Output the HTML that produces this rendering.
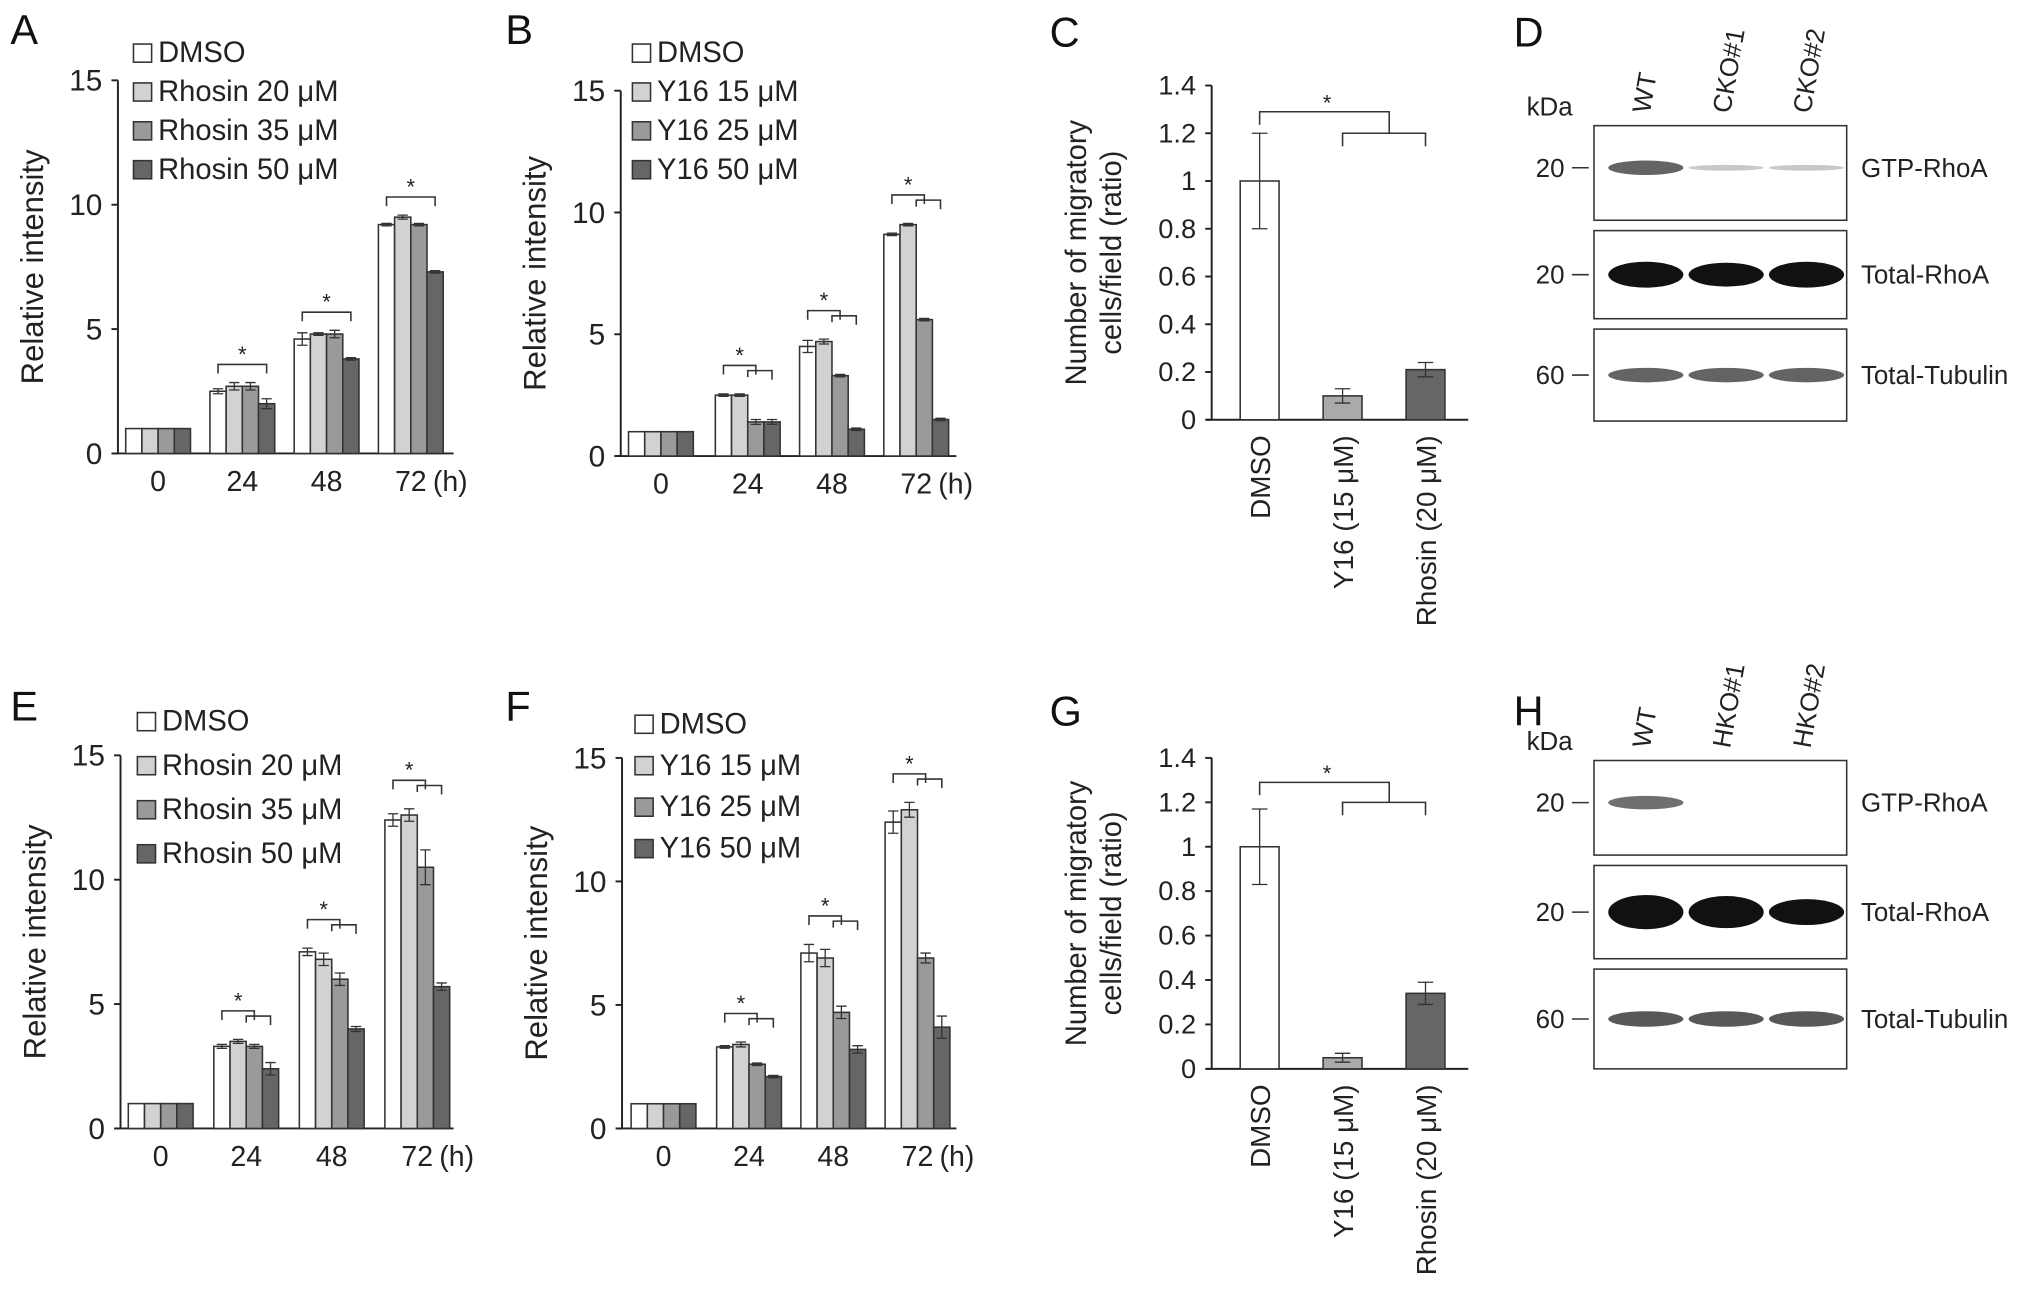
<!DOCTYPE html>
<html><head><meta charset="utf-8"><style>
html,body{margin:0;padding:0;background:#fff}
svg{display:block;font-family:"Liberation Sans",Arial,sans-serif}
</style></head><body>
<svg id="fig" width="2032" height="1293" viewBox="0 0 1568 998" preserveAspectRatio="none" xmlns="http://www.w3.org/2000/svg"></svg>
<script>
const timeCats=["0","24","48","72"];
const colors=["#ffffff","#d2d2d2","#9a9a9a","#666666"];
// Panel A
const aNames=["DMSO","Rhosin 20 μM","Rhosin 35 μM","Rhosin 50 μM"];
const aVals=[[1,2.5,4.6,9.2],[1,2.7,4.8,9.5],[1,2.7,4.8,9.2],[1,2.0,3.8,7.3]];
const aErr=[[0,0.1,0.25,0.05],[0,0.15,0.05,0.08],[0,0.15,0.15,0.05],[0,0.2,0.05,0.05]];
// Panel B
const bNames=["DMSO","Y16 15 μM","Y16 25 μM","Y16 50 μM"];
const bVals=[[1,2.5,4.5,9.1],[1,2.5,4.7,9.5],[1,1.4,3.3,5.6],[1,1.4,1.1,1.5]];
const bErr=[[0,0.05,0.25,0.05],[0,0.05,0.1,0.05],[0,0.1,0.05,0.05],[0,0.1,0.05,0.05]];
// Panel E
const eVals=[[1,3.3,7.1,12.4],[1,3.5,6.8,12.6],[1,3.3,6.0,10.5],[1,2.4,4.0,5.7]];
const eErr=[[0,0.08,0.15,0.25],[0,0.08,0.25,0.25],[0,0.08,0.25,0.7],[0,0.25,0.1,0.15]];
// Panel F
const fVals=[[1,3.3,7.1,12.4],[1,3.4,6.9,12.9],[1,2.6,4.7,6.9],[1,2.1,3.2,4.1]];
const fErr=[[0,0.05,0.35,0.45],[0,0.1,0.35,0.3],[0,0.05,0.25,0.2],[0,0.05,0.15,0.45]];
const yTicks=[0,5,10,15];
// Panels C, G
const migCats=["DMSO","Y16 (15 μM)","Rhosin (20 μM)"];
const cVals=[1.0,0.1,0.21];
const cErr=[0.2,0.03,0.03];
const gVals=[1.0,0.05,0.34];
const gErr=[0.17,0.02,0.05];
const migTicks=[0,0.2,0.4,0.6,0.8,1,1.2,1.4];
const migTickLabels=["0","0.2","0.4","0.6","0.8","1","1.2","1.4"];

const NS="http://www.w3.org/2000/svg";
const svg=document.getElementById('fig');
function mk(tag,attrs,parent,text){const e=document.createElementNS(NS,tag);for(const k in attrs)e.setAttribute(k,attrs[k]);if(text!==undefined)e.textContent=text;(parent||svg).appendChild(e);return e;}

function groupChart(o){
  const g=mk('g',{});
  
  
  const y=v=>o.y0-(v/15)*(o.y0-o.y15);
  const gx=i=>o.gx0+i*o.gstep+(i>0?o.goff:0);
  const bw=12.5;
  const ax=mk('line',{x1:o.ax,y1:o.y15,x2:o.ax,y2:o.y0,stroke:'#222','stroke-width':1.5},g);
  
  const xa=mk('line',{x1:o.ax-4,y1:o.y0,x2:o.axEnd,y2:o.y0,stroke:'#222','stroke-width':1.5},g);
  
  yTicks.forEach(t=>{
    mk('line',{x1:o.ax-5,y1:y(t),x2:o.ax,y2:y(t),stroke:'#222','stroke-width':1.5},g);
    const tl=mk('text',{x:o.ax-12,y:y(t)+8,'text-anchor':'end','font-size':23,fill:'#222'},g,String(t));
    
  });
  const yt=mk('text',{transform:`translate(${o.ax-58},${(o.y0+o.y15)/2}) rotate(-90)`,'text-anchor':'middle','font-size':24,fill:'#222'},g,'Relative intensity');
  
  timeCats.forEach((c,i)=>{
    const t=mk('text',{x:gx(i),y:o.y0+29,'text-anchor':'middle','font-size':22,fill:'#222'},g,c);
    
  });
  const h=mk('text',{x:gx(3)+17,y:o.y0+29,'font-size':22,fill:'#222'},g,'(h)');
  
  o.vals.forEach((ser,s)=>{
    ser.forEach((v,i)=>{
      const x=gx(i)-2*bw+s*bw;
      const r=mk('rect',{x:x,y:y(v),width:bw,height:o.y0-y(v),fill:colors[s],stroke:'#333','stroke-width':1.2},g);
      
      const e=o.err[s][i];
      if(e>0){
        const cx=x+bw/2;
        mk('path',{d:`M${cx},${y(v+e)}V${y(v-e)}M${cx-4},${y(v+e)}H${cx+4}M${cx-4},${y(v-e)}H${cx+4}`,stroke:'#333','stroke-width':1,fill:'none'},g);
      }
    });
  });
  for(let i=1;i<4;i++){
    const top=Math.max(...o.vals.map((s,k)=>s[i]+o.err[k][i]));
    const by=y(top)-14-(o.double?8:0);
    const x1=gx(i)-2*bw+bw/2, x2=gx(i)+bw*1.5;
    const br=mk('path',{d:o.double?`M${x1},${by+7}V${by}H${gx(i)+bw/2}V${by+7}M${gx(i)},${by+9}V${by+4}H${x2}V${by+11}`:`M${x1},${by+7}V${by}H${x2}V${by+7}`,stroke:'#333','stroke-width':1.2,fill:'none'},g);
    
    mk('text',{x:o.double?(x1+gx(i)+bw/2)/2:(x1+x2)/2,y:by-2,'text-anchor':'middle','font-size':17,fill:'#222'},g,'*');
  }
  o.names.forEach((n,s)=>{
    const ly=o.ly+s*o.lstep;
    const lg=mk('g',{},g);
    
    mk('rect',{x:o.lx,y:ly-14,width:14,height:14,fill:colors[s],stroke:'#333','stroke-width':1.2},lg);
    mk('text',{x:o.lx+19,y:ly,'font-size':22.5,fill:'#222'},lg,n);
  });
  const pl=mk('text',{x:o.px,y:o.py,'font-size':32,fill:'#111'},g,o.letter);
  
}

groupChart({name:'panel-a',letter:'A',px:8,py:34,ax:91,axEnd:350,y0:350,y15:62,gx0:122,gstep:65,goff:0,vals:aVals,err:aErr,names:aNames,lx:103,ly:48,lstep:30,double:false});
groupChart({name:'panel-b',letter:'B',px:390,py:34,ax:479,axEnd:738,y0:352,y15:70,gx0:510,gstep:65,goff:2,vals:bVals,err:bErr,names:bNames,lx:488,ly:48,lstep:30,double:true});
groupChart({name:'panel-e',letter:'E',px:8,py:556,ax:93,axEnd:350,y0:871,y15:583,gx0:124,gstep:66,goff:0,vals:eVals,err:eErr,names:aNames,lx:106,ly:564,lstep:34,double:true});
groupChart({name:'panel-f',letter:'F',px:390,py:556,ax:480,axEnd:738,y0:871,y15:585,gx0:512,gstep:65,goff:1,vals:fVals,err:fErr,names:bNames,lx:490,ly:566,lstep:32,double:true});

function migChart(o){
  const g=mk('g',{});
  
  const y=v=>o.y0-(v/1.4)*(o.y0-o.ytop);
  const bx=i=>o.bx0+i*64;
  const bw=30;
  const ax=mk('line',{x1:o.ax,y1:o.ytop,x2:o.ax,y2:o.y0,stroke:'#222','stroke-width':1.5},g);
  
  const xa=mk('line',{x1:o.ax-4,y1:o.y0,x2:o.ax+198,y2:o.y0,stroke:'#222','stroke-width':1.5},g);
  
  migTicks.forEach((t,i)=>{
    mk('line',{x1:o.ax-5,y1:y(t),x2:o.ax,y2:y(t),stroke:'#222','stroke-width':1.5},g);
    const tl=mk('text',{x:o.ax-12,y:y(t)+7,'text-anchor':'end','font-size':21,fill:'#222'},g,migTickLabels[i]);
    
  });
  const yt=mk('text',{transform:`translate(${o.ax-97},${(o.y0+o.ytop)/2}) rotate(-90)`,'text-anchor':'middle','font-size':22.5,fill:'#222'},g);
  
  mk('tspan',{x:0,dy:0},yt,'Number of migratory');
  mk('tspan',{x:0,dy:27},yt,'cells/field (ratio)');
  const cols=['#ffffff','#aaaaaa','#666666'];
  o.vals.forEach((v,i)=>{
    const r=mk('rect',{x:bx(i)-bw/2,y:y(v),width:bw,height:o.y0-y(v),fill:cols[i],stroke:'#333','stroke-width':1.2},g);
    
    const e=o.err[i],cx=bx(i);
    mk('path',{d:`M${cx},${y(v+e)}V${y(v-e)}M${cx-6},${y(v+e)}H${cx+6}M${cx-6},${y(v-e)}H${cx+6}`,stroke:'#333','stroke-width':1,fill:'none'},g);
    const t=mk('text',{transform:`translate(${cx+8},${o.y0+12}) rotate(-90)`,'text-anchor':'end','font-size':21.5,fill:'#222'},g,migCats[i]);
    
  });
  const b1=y(1.29),b2=y(1.2);
  const br=mk('path',{d:`M${bx(0)},${b1+10}V${b1}H${(bx(1)+bx(2))/2+4}V${b2}M${bx(1)},${b2+10}V${b2}H${bx(2)}V${b2+10}`,stroke:'#333','stroke-width':1.2,fill:'none'},g);
  
  mk('text',{x:(bx(0)+bx(2))/2-12,y:b1-1,'text-anchor':'middle','font-size':17,fill:'#222'},g,'*');
  const pl=mk('text',{x:o.px,y:o.py,'font-size':32,fill:'#111'},g,o.letter);
  
}
migChart({name:'panel-c',letter:'C',px:810,py:36,ax:935,y0:324,ytop:66,bx0:972,vals:cVals,err:cErr});
migChart({name:'panel-g',letter:'G',px:810,py:560,ax:935,y0:825,ytop:585,bx0:972,vals:gVals,err:gErr});

function blot(o){
  const g=mk('g',{});
  
  const pl=mk('text',{x:o.px,y:o.py,'font-size':32,fill:'#111'},g,o.letter);
  
  o.lanes.forEach((l,i)=>{
    const t=mk('text',{transform:`translate(${1273+i*62},${o.laneY}) rotate(-80)`,'font-size':20,fill:'#222'},g,l);
    
  });
  mk('text',{x:1178,y:o.boxes[0][0]-8,'font-size':20,fill:'#222'},g,'kDa');
  const names=['GTP-RhoA','Total-RhoA','Total-Tubulin'];
  const kda=['20','20','60'];
  o.boxes.forEach((b,k)=>{
    const bg=mk('g',{},g);
    
    mk('rect',{x:1230,y:b[0],width:195,height:b[1]-b[0],fill:'#fff',stroke:'#333','stroke-width':1.2},bg);
    const cy=(b[0]+b[1])/2+(k===0?-4:0);
    mk('text',{x:1185,y:cy+7,'font-size':20,fill:'#222'},bg,kda[k]);
    mk('line',{x1:1213,y1:cy,x2:1226,y2:cy,stroke:'#333','stroke-width':1.2},bg);
    mk('text',{x:1436,y:cy+7,'font-size':20,fill:'#222'},bg,names[k]);
    o.bands[k].forEach((s,i)=>{
      if(s<=0)return;
      const bx=1270+i*62;
      mk('ellipse',{cx:bx,cy:cy,rx:29,ry:2+s*8,fill:'#111',opacity:Math.min(1,0.2+s)},bg);
    });
  });
}
blot({name:'panel-d',letter:'D',px:1168,py:36,laneY:88,lanes:['WT','CKO#1','CKO#2'],boxes:[[97,170],[178,246],[254,325]],bands:[[0.45,0.03,0.03],[1,0.9,1],[0.45,0.45,0.45]]});
blot({name:'panel-h',letter:'H',px:1168,py:560,laneY:578,lanes:['WT','HKO#1','HKO#2'],boxes:[[587,660],[668,740],[748,825]],bands:[[0.4,0,0],[1.4,1.3,1.0],[0.5,0.5,0.5]]});
</script>
</body></html>
